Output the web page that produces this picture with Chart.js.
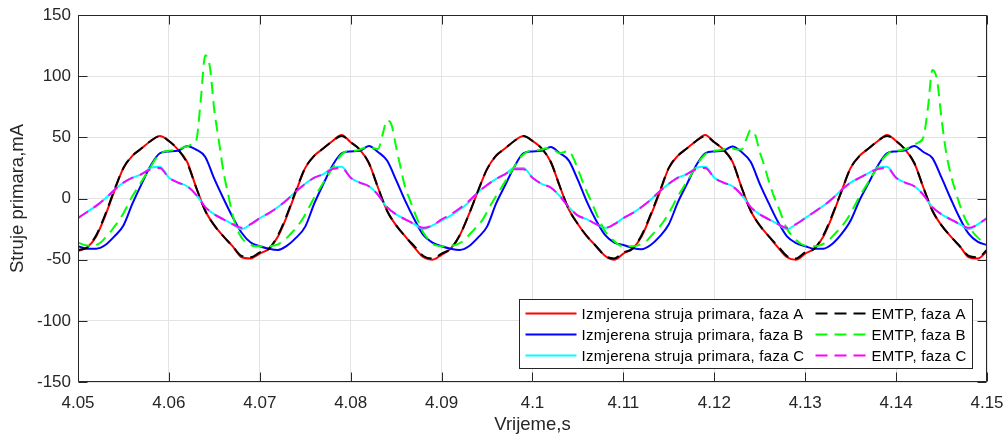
<!DOCTYPE html>
<html>
<head>
<meta charset="utf-8">
<script src="https://cdn.jsdelivr.net/npm/chart.js@4.4.0/dist/chart.umd.min.js"></script>
<style>
  html, body { margin: 0; padding: 0; background: #fff; }
  canvas { display: block; }
</style>
</head>
<body>
<canvas id="chart" width="1008" height="439"></canvas>
<script>
// sampling of the recorded traces
const tStart = 4.05;
const stepCoarse = 0.001;   // measured phases, EMTP A and C
const stepFine = 0.0005;    // EMTP phase B (has the inrush spikes)

const xTickValues = [4.05, 4.06, 4.07, 4.08, 4.09, 4.1, 4.11, 4.12, 4.13, 4.14, 4.15];
const xTickLabels = ['4.05', '4.06', '4.07', '4.08', '4.09', '4.1', '4.11', '4.12', '4.13', '4.14', '4.15'];
const yTickValues = [-150, -100, -50, 0, 50, 100, 150];

const seriesNames = [
  'Izmjerena struja primara, faza A',
  'Izmjerena struja primara, faza B',
  'Izmjerena struja primara, faza C',
  'EMTP, faza A',
  'EMTP, faza B',
  'EMTP, faza C'
];

const measA = [
  -43, -40, -31, -14, 6, 25, 35, 41, 47, 51, 47, 40, 30, 9, -10, -22, -31, -39, -48, -49,
  -45, -41, -31, -14, 6, 25, 35, 41, 47, 52, 46, 40, 29, 9, -10, -22, -31, -40, -48, -50,
  -46, -41, -30, -13, 6, 24, 35, 41, 47, 51, 47, 41, 30, 10, -9, -21, -31, -39, -47, -50,
  -45, -41, -31, -14, 5, 25, 35, 41, 47, 52, 46, 40, 30, 9, -10, -22, -31, -40, -48, -50,
  -45, -41, -31, -14, 6, 25, 35, 41, 47, 52, 47, 40, 29, 9, -10, -22, -31, -39, -48, -49,
  -43
];
const measB = [
  -39, -41, -41, -38, -31, -22, -4, 12, 27, 37, 38.5, 39, 43, 40, 34, 16, 0, -15, -28, -36,
  -39, -41, -42, -38.5, -32, -23, -4, 12, 27, 37, 38.5, 39, 43, 38, 31, 15, -2, -17, -30, -36,
  -39, -41, -42, -39, -32, -23, -4, 11, 26, 37, 38.5, 39, 42, 37, 31, 15, -3, -18, -30, -36,
  -38, -40.5, -41.5, -38, -31, -21, -3, 12, 27, 37, 38.5, 39, 42.5, 38, 30, 12, -4, -19, -31, -36.5,
  -39, -41, -41, -37, -29, -18, -1, 13, 27, 37, 38.5, 39.5, 43, 38, 33, 17, 0, -16, -29, -35.5,
  -38
];
const measC = [
  -16, -11, -6, 0, 7, 13, 17, 20, 25, 26, 17, 13, 10, 3, -7, -13, -17, -21, -25, -21,
  -16, -12, -7, -1, 6, 12, 17, 20, 25, 26, 17, 13, 10, 3, -7, -13, -17, -21, -25, -22,
  -18, -14, -9, -3, 5, 11, 16, 20, 25, 25, 17, 12, 9, 2, -7, -14, -17, -21, -24, -21,
  -16, -12, -7, -1, 6, 12, 17, 20, 25, 26, 17, 13, 10, 3, -7, -13, -17, -21, -25, -21,
  -16, -11, -6, 0, 7, 13, 17, 21, 25, 26, 17, 13, 10, 3, -7, -13, -17, -21, -25, -21,
  -16
];
const emtpA = [
  -42, -40, -30, -13, 7, 25, 35, 41, 47, 51, 47, 40, 29, 9, -10, -22, -31, -39, -47, -48,
  -44, -41, -30, -13, 7, 25, 35, 41, 47, 51, 46, 40, 29, 9, -10, -22, -31, -39, -47, -49,
  -45, -41, -30, -13, 6, 24, 35, 41, 47, 51, 47, 41, 30, 10, -9, -21, -31, -39, -47, -49,
  -44, -41, -30, -13, 6, 25, 35, 41, 47, 51, 46, 40, 30, 9, -10, -22, -31, -39, -47, -49,
  -44, -41, -30, -13, 6, 25, 35, 41, 47, 51, 47, 40, 29, 9, -10, -22, -31, -39, -47, -48,
  -42
];
const emtpB = [
  -36, -37.5, -38.5, -39, -38, -36, -32, -28, -23, -18, -12, -5, 2, 8, 14, 20, 26, 32, 36, 38.5,
  39, 39.5, 40, 41.5, 42.5, 44, 47, 80, 117, 108, 72, 47, 22, 4, -13, -25, -32, -36, -38, -39,
  -39, -39, -39, -38.5, -37.5, -35, -32, -28, -24, -19, -13, -6, 1, 7, 13, 19, 25, 31, 36, 38.5,
  39, 39, 40, 41.5, 42, 41, 40.5, 52, 64, 60, 42, 25, 9, -1, -11, -20, -28, -33, -37, -38.5,
  -39, -39, -38.5, -38, -36.5, -34, -30, -26, -22, -17.5, -11, -4, 2, 8, 14, 20, 26, 32, 36, 38.5,
  39, 39.5, 40, 41, 41, 39, 37, 38, 39, 33, 24, 14, 5, -3, -12, -20, -27, -31, -35, -38,
  -39, -39, -39, -38.5, -37, -35, -31, -27, -23, -18, -12, -5, 2, 8, 14, 20, 26, 32, 36, 38.5,
  39, 39.5, 40, 41, 41, 40, 40, 48, 56, 52, 38, 27, 14, 3, -6, -16, -25, -30, -34, -37,
  -38.5, -39, -39, -38.5, -37, -35, -31, -27, -23, -18, -12, -5, 2, 8, 14, 20, 26, 32, 36, 38.5,
  39, 39.5, 40.5, 42, 44, 46, 50, 74, 105, 97, 65, 38, 20, 7, -5, -15, -22, -28, -32, -35,
  -37
];
const emtpC = [
  -16, -11, -6, 0, 7, 13, 17, 20, 24, 25, 17, 13, 10, 3, -7, -13, -17, -21, -24, -21,
  -16, -12, -7, -1, 6, 12, 17, 20, 24, 25, 17, 13, 10, 3, -7, -13, -17, -21, -24, -22,
  -17, -13, -8, -2, 5, 11, 16, 20, 24, 24, 17, 12, 9, 2, -7, -14, -17, -21, -24, -21,
  -16, -12, -7, -1, 6, 12, 17, 20, 24, 25, 17, 13, 10, 3, -7, -13, -17, -21, -24, -21,
  -16, -11, -6, 0, 7, 13, 17, 21, 24, 25, 17, 13, 10, 3, -7, -13, -17, -21, -24, -21,
  -16
];

const textColor = '#262626';
const fontFamily = '"Liberation Sans", Arial, Helvetica, sans-serif';

function toPoints(values, step) {
  return values.map((v, i) => ({ x: tStart + i * step, y: v }));
}

function trace(label, values, step, color, dashed, order) {
  return {
    label: label,
    data: toPoints(values, step),
    borderColor: color,
    backgroundColor: color,
    borderWidth: 2,
    borderDash: dashed ? [12, 7] : [],
    pointRadius: 0,
    fill: false,
    cubicInterpolationMode: 'monotone',
    order: order
  };
}

// box + inward ticks on all four sides
const axesBox = {
  id: 'axesBox',
  afterDraw(chart) {
    const ctx = chart.ctx;
    const a = chart.chartArea;
    const xs = chart.scales.x, ys = chart.scales.y;
    const tick = 9;
    const L = Math.round(a.left) + 0.5, R = Math.round(a.right) - 0.5;
    const T = Math.round(a.top) + 0.5, B = Math.round(a.bottom) - 0.5;
    ctx.save();
    ctx.setLineDash([]);
    ctx.globalAlpha = 1;
    ctx.strokeStyle = '#262626';
    ctx.lineWidth = 1;
    ctx.beginPath();
    ctx.moveTo(L, T); ctx.lineTo(R, T); ctx.lineTo(R, B); ctx.lineTo(L, B); ctx.closePath();
    xTickValues.forEach(v => {
      const px = Math.round(xs.getPixelForValue(v)) + 0.5;
      ctx.moveTo(px, B); ctx.lineTo(px, B - tick);
      ctx.moveTo(px, T); ctx.lineTo(px, T + tick);
    });
    yTickValues.forEach(v => {
      const py = Math.round(ys.getPixelForValue(v)) + 0.5;
      ctx.moveTo(L, py); ctx.lineTo(L + tick, py);
      ctx.moveTo(R, py); ctx.lineTo(R - tick, py);
    });
    ctx.stroke();
    ctx.restore();
  }
};

// two column legend in the lower right corner
const twoColumnLegend = {
  id: 'twoColumnLegend',
  afterDraw(chart) {
    const ctx = chart.ctx;
    const a = chart.chartArea;
    const ds = chart.data.datasets;
    ctx.save();
    ctx.font = '15px ' + fontFamily;
    ctx.letterSpacing = '0.3px';
    const w1 = Math.max(...ds.slice(0, 3).map(d => ctx.measureText(d.label).width));
    const w2 = Math.max(...ds.slice(3).map(d => ctx.measureText(d.label).width));
    const pad = 6, lineLen = 51, gap = 5, colGap = 11, rowH = 21;
    const boxW = Math.round(pad + lineLen + gap + w1 + colGap + lineLen + gap + w2 + pad);
    const boxH = 69;
    const right = Math.round(a.right) - 15, bottom = Math.round(a.bottom) - 14;
    const left = right - boxW + 0.5, top = bottom - boxH + 0.5;
    ctx.fillStyle = '#ffffff';
    ctx.fillRect(left, top, boxW, boxH);
    ctx.setLineDash([]);
    ctx.strokeStyle = '#262626';
    ctx.lineWidth = 1;
    ctx.strokeRect(left, top, boxW, boxH);
    ctx.textBaseline = 'middle';
    ctx.textAlign = 'left';
    ds.forEach((d, i) => {
      const col = i < 3 ? 0 : 1;
      const row = i % 3;
      const x0 = left + pad + (col ? lineLen + gap + w1 + colGap : 0);
      const y = top + 14 + row * rowH;
      ctx.strokeStyle = d.borderColor;
      ctx.lineWidth = 2;
      ctx.setLineDash(d.borderDash || []);
      ctx.beginPath();
      ctx.moveTo(x0, y); ctx.lineTo(x0 + lineLen, y);
      ctx.stroke();
      ctx.setLineDash([]);
      ctx.fillStyle = '#000000';
      ctx.fillText(d.label, x0 + lineLen + gap, y + 1);
    });
    ctx.restore();
  }
};

new Chart(document.getElementById('chart'), {
  type: 'line',
  data: {
    datasets: [
      trace(seriesNames[0], measA, stepCoarse, '#ff0000', false, 6),
      trace(seriesNames[1], measB, stepCoarse, '#0000ff', false, 5),
      trace(seriesNames[2], measC, stepCoarse, '#00ffff', false, 4),
      trace(seriesNames[3], emtpA, stepCoarse, '#000000', true, 3),
      trace(seriesNames[4], emtpB, stepFine, '#00ff00', true, 2),
      trace(seriesNames[5], emtpC, stepCoarse, '#ff00ff', true, 1)
    ]
  },
  options: {
    responsive: false,
    animation: false,
    devicePixelRatio: 1,
    layout: { padding: { left: 0, right: 21, top: 15, bottom: 0 } },
    plugins: {
      legend: { display: false },
      tooltip: { enabled: false }
    },
    scales: {
      x: {
        type: 'linear',
        min: 4.05,
        max: 4.15,
        afterBuildTicks(scale) { scale.ticks = xTickValues.map(v => ({ value: v })); },
        afterFit(scale) {
          scale.height = 57;
          scale.paddingLeft = 0;
          scale.paddingRight = 0;
        },
        ticks: {
          autoSkip: false,
          maxRotation: 0,
          padding: 11,
          color: textColor,
          font: { family: fontFamily, size: 17 },
          callback: (v, i) => xTickLabels[i]
        },
        grid: { color: '#e3e3e3', lineWidth: 1, drawTicks: false },
        border: { display: false },
        title: {
          display: true,
          text: 'Vrijeme,s',
          color: textColor,
          font: { family: fontFamily, size: 18.5 },
          padding: { top: 0, bottom: 3 }
        }
      },
      y: {
        min: -150,
        max: 150,
        afterBuildTicks(scale) { scale.ticks = yTickValues.map(v => ({ value: v })); },
        afterFit(scale) {
          scale.width = 78;
          scale.paddingTop = 0;
          scale.paddingBottom = 0;
        },
        ticks: {
          padding: 7,
          color: textColor,
          font: { family: fontFamily, size: 17 }
        },
        grid: { color: '#e3e3e3', lineWidth: 1, drawTicks: false },
        border: { display: false },
        title: {
          display: true,
          text: 'Struje primara,mA',
          color: textColor,
          font: { family: fontFamily, size: 18.5 },
          padding: { top: 7, bottom: 0 }
        }
      }
    }
  },
  plugins: [axesBox, twoColumnLegend]
});
</script>
</body>
</html>
